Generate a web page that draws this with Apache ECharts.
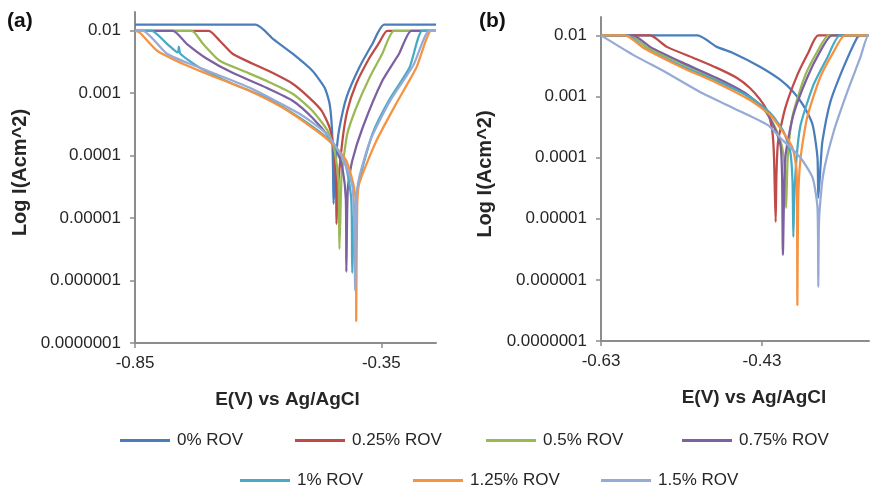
<!DOCTYPE html>
<html>
<head>
<meta charset="utf-8">
<script src="https://cdn.jsdelivr.net/npm/echarts@6/dist/echarts.min.js"></script>
<style>
  html, body { margin: 0; padding: 0; background: #fff; }
  #chart { width: 870px; height: 491px; }
</style>
</head>
<body>
<div id="chart"></div>
<script>
// series names (legend)
var names = ['0% ROV', '0.25% ROV', '0.5% ROV', '0.75% ROV', '1% ROV', '1.25% ROV', '1.5% ROV'];
var colors = ['#4A7EBB', '#BE4B48', '#98B954', '#7D60A0', '#46AAC5', '#F69240', '#95ABD6'];

// tick values
var yTicks = [0.0000001, 0.000001, 0.00001, 0.0001, 0.001, 0.01];
var xTicksA = [-0.85, -0.35];
var xTicksB = [-0.63, -0.43];

// panel (a): [E (V), I (A/cm2)]
var a0 = [[-0.85,0.0125],[-0.605,0.0125],[-0.568,0.0072],[-0.530,0.00429],[-0.490,0.00229],[-0.465,0.00122],[-0.455,0.000678],[-0.450,0.00025],[-0.448,0.00006],[-0.447,0.000017],[-0.444,0.00005],[-0.440,0.00014],[-0.435,0.00028],[-0.421,0.000845],[-0.395,0.00255],[-0.368,0.00619],[-0.344,0.0125],[-0.239,0.0125]];
var a1 = [[-0.85,0.01],[-0.700,0.01],[-0.678,0.00692],[-0.652,0.00429],[-0.611,0.00297],[-0.571,0.00212],[-0.530,0.00142],[-0.496,0.000845],[-0.471,0.000524],[-0.455,0.00028],[-0.447,0.000134],[-0.442,0.00004],[-0.441,0.0000081],[-0.439,0.0000245],[-0.429,0.000173],[-0.419,0.000524],[-0.401,0.00142],[-0.374,0.0037],[-0.354,0.0065],[-0.338,0.01],[-0.239,0.01]];
var a2 = [[-0.85,0.01],[-0.735,0.01],[-0.712,0.00619],[-0.678,0.00331],[-0.631,0.00229],[-0.583,0.00158],[-0.530,0.00098],[-0.490,0.000524],[-0.459,0.00025],[-0.445,0.00012],[-0.437,0.00004],[-0.435,0.0000032],[-0.431,0.000045],[-0.429,0.000064],[-0.419,0.000224],[-0.401,0.000585],[-0.374,0.00177],[-0.348,0.00429],[-0.324,0.01],[-0.239,0.01]];
var a3 = [[-0.85,0.01],[-0.773,0.01],[-0.745,0.00619],[-0.704,0.00357],[-0.652,0.00212],[-0.583,0.00122],[-0.530,0.000757],[-0.490,0.000405],[-0.455,0.000193],[-0.440,0.00012],[-0.429,0.000064],[-0.422,0.00002],[-0.421,0.00000138],[-0.418,0.00003],[-0.409,0.0000828],[-0.388,0.00028],[-0.348,0.00158],[-0.314,0.00429],[-0.289,0.01],[-0.239,0.01]];
var a4 = [[-0.85,0.01],[-0.816,0.01],[-0.785,0.00619],[-0.763,0.0045],[-0.761,0.0056],[-0.758,0.0043],[-0.718,0.00255],[-0.652,0.00142],[-0.583,0.000845],[-0.516,0.000405],[-0.461,0.000193],[-0.425,0.0000828],[-0.411,0.00002],[-0.409,0.00000133],[-0.405,0.000012],[-0.395,0.0000396],[-0.368,0.000224],[-0.335,0.000757],[-0.293,0.00255],[-0.267,0.01],[-0.239,0.01]];
var a5 = [[-0.85,0.01],[-0.840,0.0093],[-0.805,0.00479],[-0.753,0.00297],[-0.684,0.00177],[-0.617,0.00109],[-0.550,0.000585],[-0.490,0.00028],[-0.449,0.000155],[-0.421,0.0000828],[-0.405,0.00003],[-0.401,0.00001],[-0.401,0.00000022],[-0.399,0.000015],[-0.395,0.0000355],[-0.360,0.000173],[-0.320,0.000678],[-0.279,0.00255],[-0.249,0.01],[-0.239,0.01]];
var a6 = [[-0.85,0.01],[-0.834,0.01],[-0.785,0.00429],[-0.718,0.00255],[-0.617,0.00122],[-0.516,0.000469],[-0.461,0.000224],[-0.429,0.0000925],[-0.408,0.00003],[-0.403,0.00000069],[-0.401,0.000018],[-0.395,0.0000443],[-0.372,0.00018],[-0.332,0.00076],[-0.285,0.0028],[-0.253,0.01],[-0.239,0.01]];

// panel (b)
var b0 = [[-0.63,0.01],[-0.510,0.01],[-0.486,0.00649],[-0.466,0.00517],[-0.432,0.00305],[-0.407,0.00187],[-0.391,0.00119],[-0.379,0.000729],[-0.367,0.000343],[-0.361,0.0000989],[-0.360,0.0000219],[-0.357,0.00008],[-0.355,0.000181],[-0.345,0.000816],[-0.329,0.00294],[-0.312,0.0091],[-0.308,0.01],[-0.297,0.01]];
var b1 = [[-0.63,0.01],[-0.569,0.01],[-0.548,0.00649],[-0.515,0.00428],[-0.486,0.00294],[-0.461,0.00201],[-0.445,0.00138],[-0.432,0.000879],[-0.423,0.00056],[-0.417,0.000263],[-0.415,0.0000989],[-0.413,0.00000887],[-0.412,0.0000521],[-0.410,0.000181],[-0.401,0.000651],[-0.386,0.00226],[-0.372,0.00537],[-0.360,0.01],[-0.297,0.01]];
var b2 = [[-0.63,0.01],[-0.594,0.01],[-0.572,0.0063],[-0.528,0.0034],[-0.486,0.0019],[-0.453,0.00113],[-0.428,0.00062],[-0.414,0.00032],[-0.405,0.00015],[-0.401,0.00005],[-0.400,0.000015],[-0.398,0.0001],[-0.392,0.00048],[-0.377,0.0021],[-0.361,0.0055],[-0.347,0.01],[-0.297,0.01]];
var b3 = [[-0.63,0.01],[-0.590,0.01],[-0.569,0.00649],[-0.528,0.00355],[-0.486,0.00201],[-0.453,0.00119],[-0.428,0.000651],[-0.416,0.000343],[-0.407,0.000161],[-0.405,0.00005],[-0.404,0.00000256],[-0.401,0.0000989],[-0.391,0.0005],[-0.374,0.00201],[-0.358,0.00537],[-0.343,0.01],[-0.297,0.01]];
var b4 = [[-0.63,0.01],[-0.597,0.01],[-0.577,0.0063],[-0.528,0.0031],[-0.486,0.0018],[-0.445,0.00098],[-0.420,0.00054],[-0.404,0.00028],[-0.395,0.00013],[-0.392,0.00004],[-0.391,0.00000504],[-0.390,0.00002],[-0.387,0.0001],[-0.382,0.000343],[-0.366,0.00155],[-0.349,0.00428],[-0.333,0.01],[-0.297,0.01]];
var b5 = [[-0.63,0.01],[-0.600,0.01],[-0.577,0.00624],[-0.528,0.00294],[-0.486,0.00167],[-0.445,0.000879],[-0.420,0.0005],[-0.404,0.000263],[-0.392,0.000144],[-0.387,0.00006],[-0.386,0.000000388],[-0.385,0.00002],[-0.382,0.0000989],[-0.374,0.000446],[-0.358,0.00201],[-0.341,0.00537],[-0.327,0.01],[-0.297,0.01]];
var b6 = [[-0.63,0.01],[-0.590,0.0048],[-0.548,0.00243],[-0.507,0.00119],[-0.466,0.000651],[-0.423,0.000343],[-0.407,0.00021],[-0.382,0.0000989],[-0.367,0.0000466],[-0.361,0.000015],[-0.360,0.000000766],[-0.359,0.00001],[-0.354,0.0000521],[-0.341,0.000263],[-0.324,0.00119],[-0.308,0.00428],[-0.298,0.01],[-0.297,0.01]];

var panelA = [a0, a1, a2, a3, a4, a5, a6];
var panelB = [b0, b1, b2, b3, b4, b5, b6];

var axisColor = '#8c8c8c';
var txtColor = '#262626';
var sans = '"Liberation Sans", Arial, sans-serif';

function yLabel(v) {
  var d = Math.round(-Math.log10(v));
  return v.toFixed(d);
}

function makeX(idx, min, max, ticks, shift) {
  return {
    type: 'value', gridIndex: idx, min: min, max: max,
    name: 'E(V) vs Ag/AgCl', nameLocation: 'middle', nameGap: 47,
    nameTextStyle: { fontSize: 19, fontWeight: 'bold', color: txtColor, fontFamily: sans, padding: [0, 0, 0, shift] },
    axisLine: { lineStyle: { color: axisColor, width: 2 } },
    axisTick: { show: true, length: 5, customValues: ticks, lineStyle: { color: axisColor, width: 1.5 } },
    axisLabel: { customValues: ticks, margin: 12, fontSize: 17, color: txtColor, fontFamily: sans,
      formatter: function (v) { return v.toFixed(2); } },
    splitLine: { show: false }
  };
}

function makeY(idx, gap) {
  return {
    type: 'log', logBase: 10, gridIndex: idx, min: 0.0000001, max: 0.02,
    name: 'Log I(Acm^2)', nameLocation: 'middle', nameGap: gap, nameRotate: 90,
    nameTextStyle: { fontSize: 20, fontWeight: 'bold', color: txtColor, fontFamily: sans, padding: [0, 0, 0, 10] },
    axisLine: { show: true, lineStyle: { color: axisColor, width: 2 } },
    axisTick: { show: true, length: 5, customValues: yTicks, lineStyle: { color: axisColor, width: 1.5 } },
    axisLabel: { customValues: yTicks, margin: 14, fontSize: 17, color: txtColor, fontFamily: sans, formatter: yLabel },
    splitLine: { show: false }
  };
}

var series = [];
panelA.forEach(function (d, i) {
  series.push({ name: names[i], type: 'line', xAxisIndex: 0, yAxisIndex: 0, data: d,
    showSymbol: false, symbol: 'none', smooth: 0.2, color: colors[i],
    lineStyle: { width: 2.25, color: colors[i] }, z: 2 + i });
});
panelB.forEach(function (d, i) {
  series.push({ name: names[i], type: 'line', xAxisIndex: 1, yAxisIndex: 1, data: d,
    showSymbol: false, symbol: 'none', smooth: 0.2, color: colors[i],
    lineStyle: { width: 2.25, color: colors[i] }, z: 2 + i });
});

// legend: one component per entry, two rows like the original
var legendLeft = [120, 295, 486, 682, 240, 413, 601];
var legendTop = [432, 432, 432, 432, 472, 472, 472];
var legends = names.map(function (n, i) {
  return {
    left: legendLeft[i], top: legendTop[i], padding: 0, itemGap: 0,
    itemWidth: 50, itemHeight: 3, icon: 'rect', data: [n],
    textStyle: { fontSize: 17, color: txtColor, fontFamily: sans, padding: [0, 0, 0, 2] }
  };
});

var chart = echarts.init(document.getElementById('chart'));
chart.setOption({
  animation: false,
  backgroundColor: '#fff',
  grid: [
    { left: 135, top: 12, width: 301, height: 331, outerBoundsMode: 'none' },
    { left: 601, top: 17, width: 268, height: 324, outerBoundsMode: 'none' }
  ],
  xAxis: [makeX(0, -0.85, -0.239, xTicksA, 4), makeX(1, -0.63, -0.297, xTicksB, 38)],
  yAxis: [makeY(0, 105), makeY(1, 106)],
  legend: legends,
  graphic: [
    { type: 'text', left: 7, top: 11, style: { text: '(a)', font: 'bold 21px "Liberation Sans", Arial, sans-serif', fill: '#111' } },
    { type: 'text', left: 479, top: 11, style: { text: '(b)', font: 'bold 21px "Liberation Sans", Arial, sans-serif', fill: '#111' } }
  ],
  series: series
});
</script>
</body>
</html>
